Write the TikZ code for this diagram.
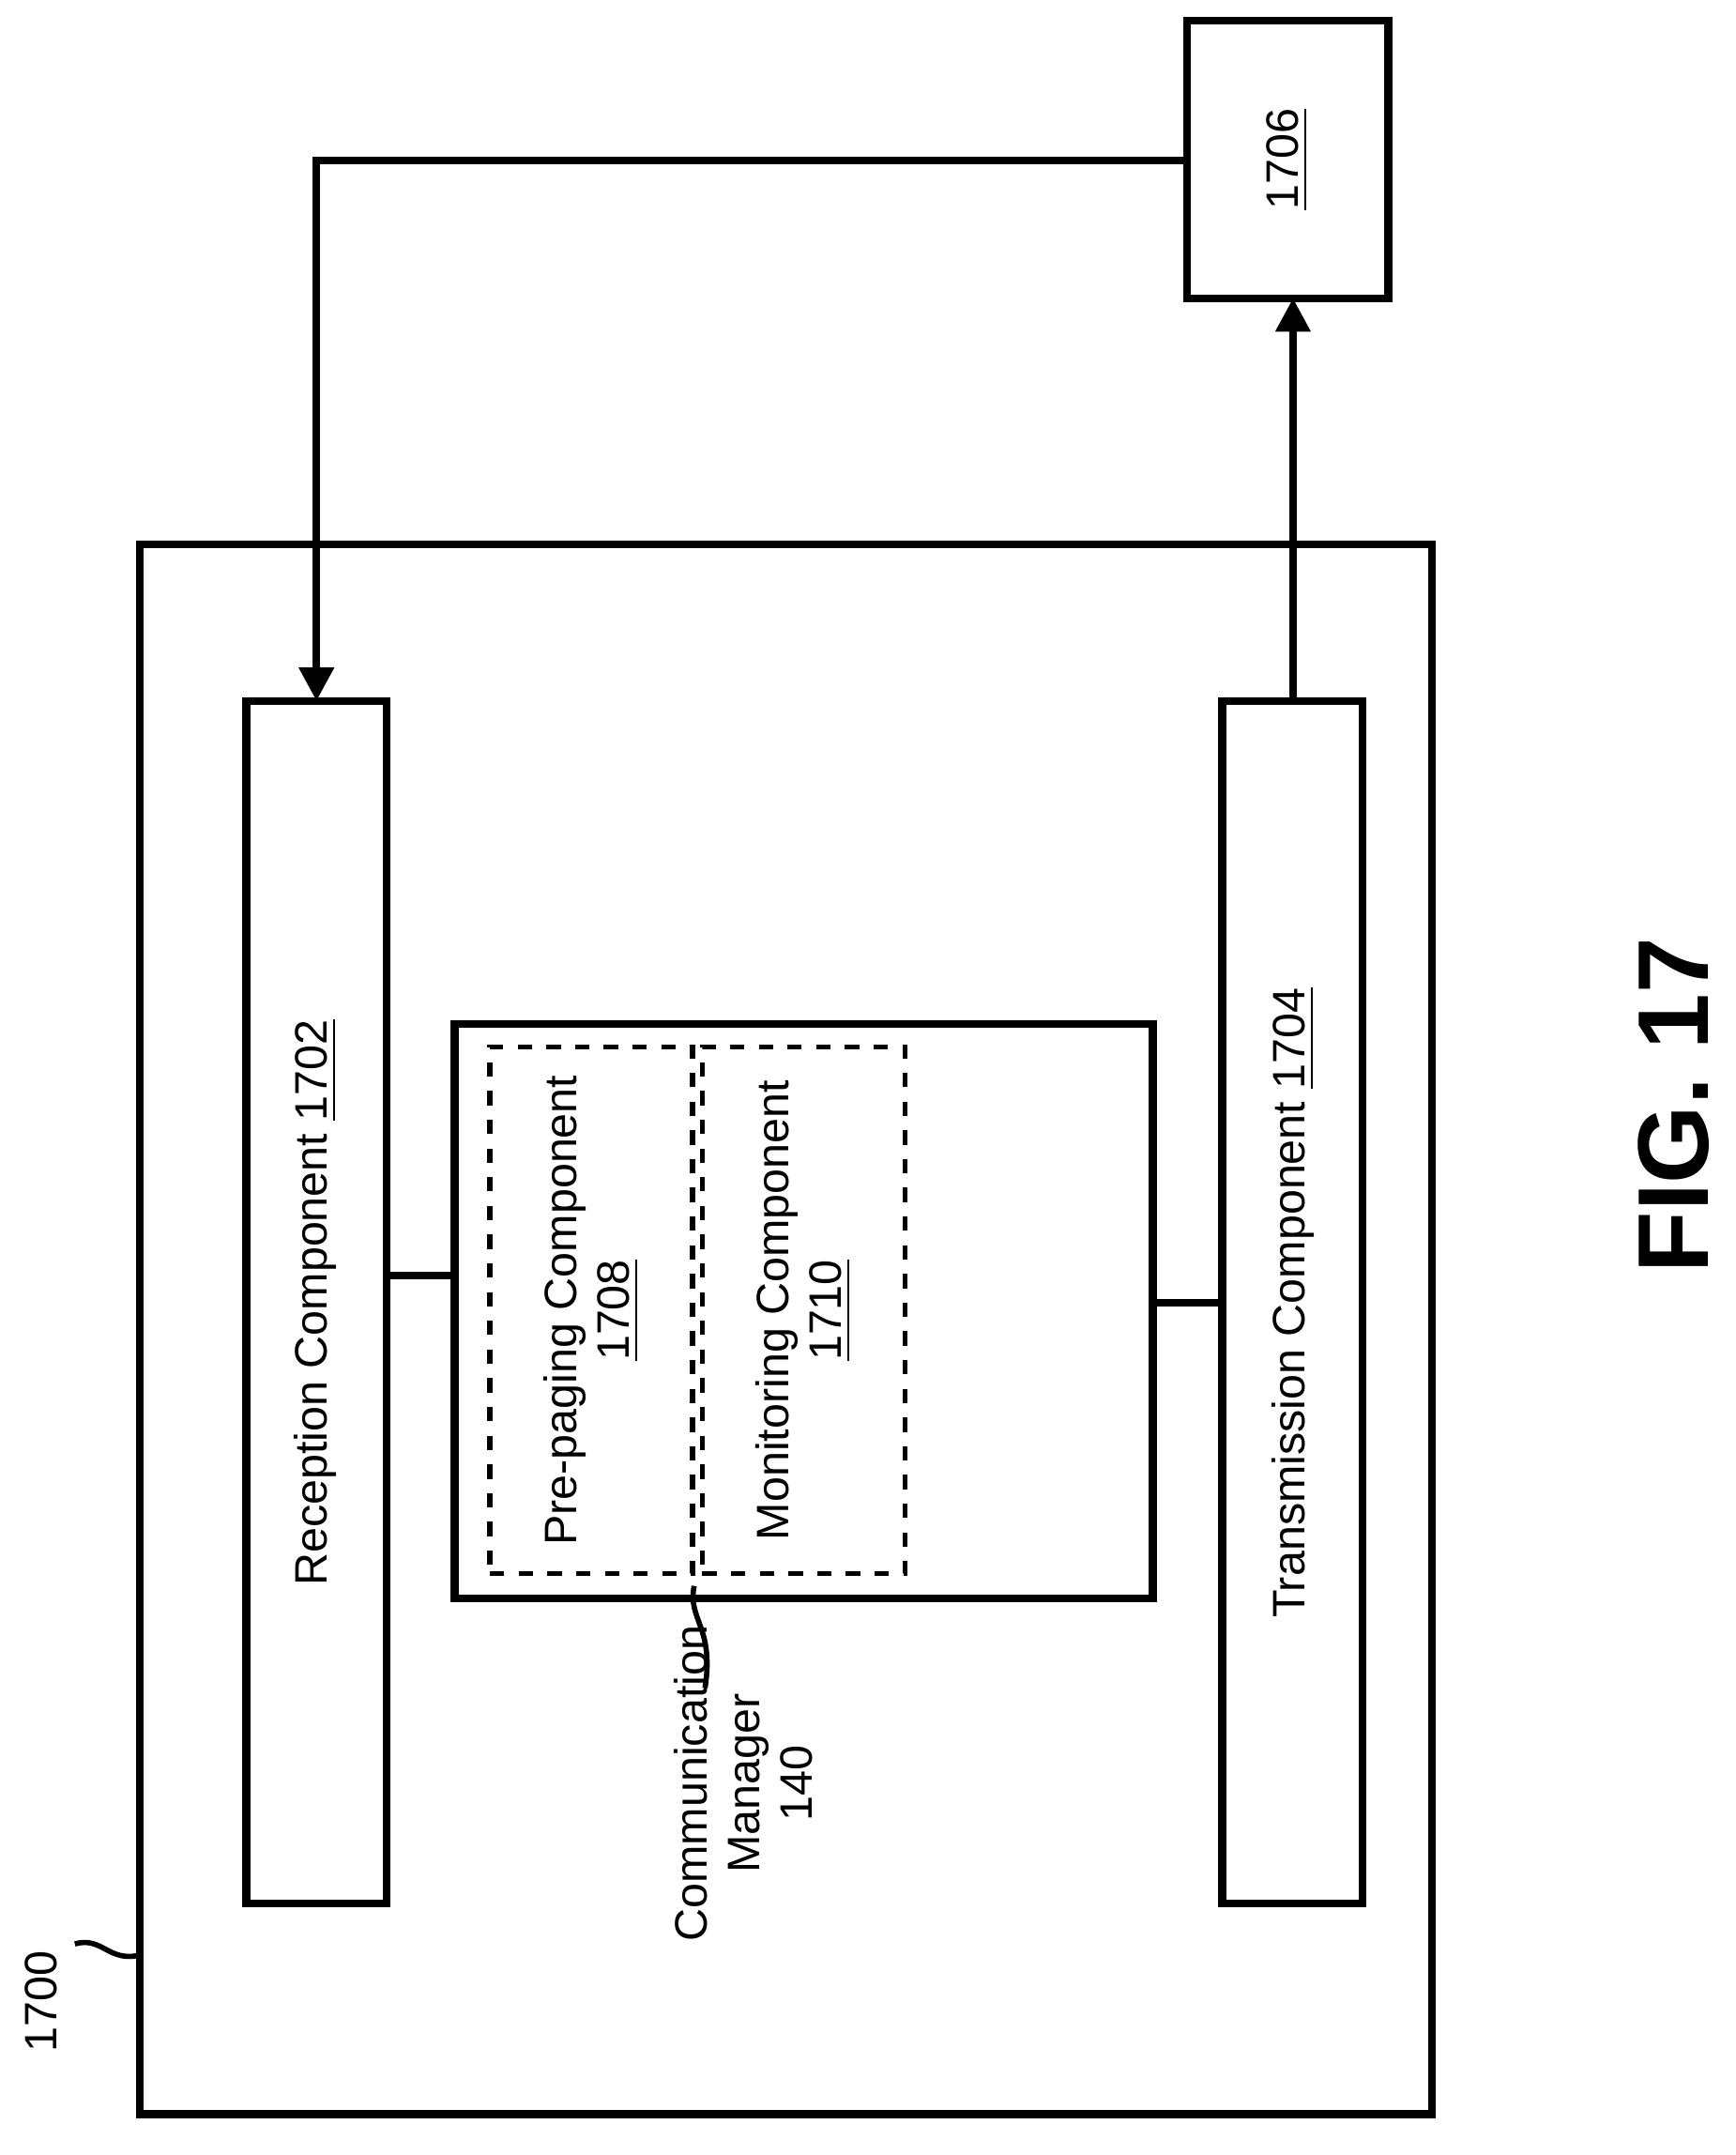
\documentclass[tikz,border=0pt]{standalone}
\usepackage{fontspec}
\setmainfont{Liberation Sans}
\usetikzlibrary{positioning,arrows.meta}
\tikzset{
  blk/.style={draw,line width=1.6pt,inner sep=0pt,outer sep=0pt},
  sub/.style={draw,dashed,line width=1.1pt,inner sep=0pt,outer sep=0pt},
  lbl/.style={rotate=90,font=\fontsize{9.5}{11}\selectfont,align=center},
  con/.style={line width=1.6pt},
  arr/.style={line width=1.6pt,-{Triangle[length=7pt,width=7pt]}}
}
\newcommand{\boxat}[6]{% name, style, x1, y1, x2, y2
  \node[#2,minimum width={(#5-#3)*0.01cm},minimum height={(#6-#4)*0.01cm}] (#1) at ({(#3+#5)/2},{(#4+#6)/2}) {};}
\begin{document}
\begin{tikzpicture}[x=0.01cm,y=-0.01cm]
\useasboundingbox (0,0) rectangle (1275,1583);

% outer device box
\boxat{dev}{blk}{103}{400}{1052}{1553}

% components
\boxat{rx}{blk}{181}{515}{284}{1398}
\node[lbl] at (232,957) {Reception Component \underline{1702}};
\boxat{tx}{blk}{898}{515}{1001}{1398}
\node[lbl] at (950,957) {Transmission Component \underline{1704}};
\boxat{ext}{blk}{872}{15}{1020}{219}
\node[lbl] at (ext) {\underline{1706}};

% communication manager
\boxat{cm}{blk}{334}{752}{847}{1174}
\boxat{pp}{sub}{360}{769}{509}{1156}
\node[lbl] at (pp) {Pre-paging Component\\\underline{1708}};
\boxat{mon}{sub}{516}{769}{665}{1156}
\node[lbl] at (mon) {Monitoring Component\\\underline{1710}};

% links
\draw[con] (rx.east |- 0,937) -- (cm.west |- 0,937);
\draw[con] (cm.east |- 0,957) -- (tx.west |- 0,957);
\draw[arr] (ext.west |- 0,118) -| (rx.north);
\draw[arr] (tx.north -| 950,0) -- (ext.south -| 950,0);

% labels
\node[lbl] (cmlbl) at (546,1310) {Communication\\Manager\\140};
\draw[line width=1.1pt] (510,1165) .. controls (505,1190) and (525,1195) .. (518,1240);
\node[lbl] (devlbl) at (30,1470) {1700};
\draw[line width=1.1pt] (55,1428) .. controls (75,1422) and (80,1442) .. (dev.west |- 0,1436);
\node[rotate=90,font=\bfseries\fontsize{21}{24}\selectfont] (fig) at (1230,812) {FIG. 17};
\end{tikzpicture}
\end{document}
